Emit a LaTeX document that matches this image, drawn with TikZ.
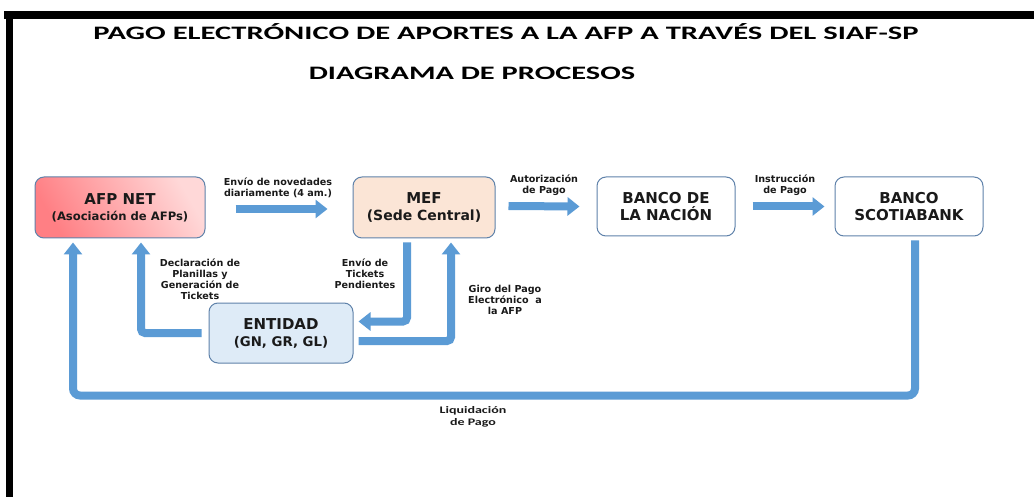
\documentclass[tikz,border=0pt]{standalone}
\usepackage{fontspec}
\setmainfont{DejaVu Sans}
\newfontfamily\calfnt{Carlito}
\usetikzlibrary{arrows.meta}
\definecolor{arrblue}{HTML}{5B9BD5}
\definecolor{boxline}{HTML}{5F82AA}
\definecolor{meffill}{HTML}{FBE5D6}
\definecolor{entfill}{HTML}{DEEBF7}
\definecolor{afpA}{HTML}{FF7F84}
\definecolor{afpB}{HTML}{FFD8D8}
\definecolor{txt}{HTML}{1A1A1A}
\tikzset{
  procbox/.style={draw=boxline, line width=1pt, rounded corners=9pt, align=center,
    font=\bfseries\fontsize{15}{17}\selectfont, text=txt, inner sep=0pt},
  blk/.style={draw=arrblue, line width=8pt, -{Triangle[length=12pt,width=18pt]}},
  lbl/.style={font=\bfseries\fontsize{9.6}{11}\selectfont, text=txt, align=center, inner sep=0pt},
  ttl/.style={font=\calfnt\bfseries\fontsize{19}{22}\selectfont, inner sep=0pt}
}
\begin{document}
\begin{tikzpicture}[x=1pt,y=-1pt]
\useasboundingbox (0,0) rectangle (1034,497);
\fill[white] (0,0) rectangle (1034,497);
% frame
\fill[black] (4,11) rectangle (1034,19);
\fill[black] (6,11) rectangle (13,497);
% titles
\node[ttl] (t1) at (506,31.5) {\scalebox{1.61}[1]{PAGO ELECTRÓNICO DE APORTES A LA AFP A TRAVÉS DEL SIAF-SP}};
\node[ttl] (t2) at (472,73) {\scalebox{1.6}[1]{DIAGRAMA DE PROCESOS}};
% boxes
\node[procbox, minimum width=170pt, minimum height=61pt, left color=afpA, right color=afpB, shading angle=120] (afp) at (120,207.5)
  {AFP NET\\[-1pt]{\fontsize{11.6}{14}\selectfont (Asociación de AFPs)}};
\node[procbox, minimum width=142pt, minimum height=61pt, fill=meffill] (mef) at (424,207.5)
  {MEF\\{\fontsize{14}{17}\selectfont (Sede Central)}};
\node[procbox, minimum width=138pt, minimum height=59pt, fill=white] (bn) at (666,206.5)
  {BANCO DE\\LA NACIÓN};
\node[procbox, minimum width=148pt, minimum height=59pt, fill=white] (sb) at (909,206.5)
  {BANCO\\SCOTIABANK};
\node[procbox, minimum width=144pt, minimum height=60pt, fill=entfill] (ent) at (281,333)
  {ENTIDAD\\{\fontsize{13.3}{16}\selectfont (GN, GR, GL)}};
% horizontal arrows
\draw[blk] ([xshift=30pt,yshift=-1.5pt]afp.east) -- ([xshift=-25pt,yshift=-1.5pt]mef.west);
\draw[blk] ([xshift=13pt,yshift=1.5pt]mef.east) -- ([xshift=-17pt]bn.west);
\draw[blk] ([xshift=17pt]bn.east) -- ([xshift=-10pt]sb.west);
% bent arrows
\draw[blk, rounded corners=7pt] ([xshift=6pt,yshift=-4pt]sb.south) |- ([xshift=-47pt,yshift=-157pt]afp.south) -- ([xshift=-47pt,yshift=-4pt]afp.south);
\draw[blk, rounded corners=4pt] ([xshift=-7pt]ent.west) -| ([xshift=21pt,yshift=-4pt]afp.south);
\draw[blk, rounded corners=4pt] ([xshift=-17pt,yshift=-4pt]mef.south) |- ([xshift=5pt,yshift=11.5pt]ent.east);
\draw[blk, rounded corners=4pt] ([xshift=5pt,yshift=-8pt]ent.east) -| ([xshift=27pt,yshift=-4pt]mef.south);
% labels
\node[lbl] (l1) at (278,188) {Envío de novedades\\diariamente (4 am.)};
\node[lbl] (l2) at (544,185) {Autorización\\de Pago};
\node[lbl] (l3) at (785,185) {Instrucción\\de Pago};
\node[lbl] (l4) at (200,279) {Declaración de\\Planillas y\\Generación de\\Tickets};
\node[lbl] (l5) at (365,274) {Envío de\\Tickets\\Pendientes};
\node[lbl] (l6) at (505,300) {Giro del Pago\\Electrónico \ a\\la AFP};
\node[lbl, font=\calfnt\bfseries\fontsize{10}{12}\selectfont] (l7) at (473,417) {\scalebox{1.4}[1]{Liquidación}\\\scalebox{1.4}[1]{de Pago}};
\end{tikzpicture}
\end{document}
